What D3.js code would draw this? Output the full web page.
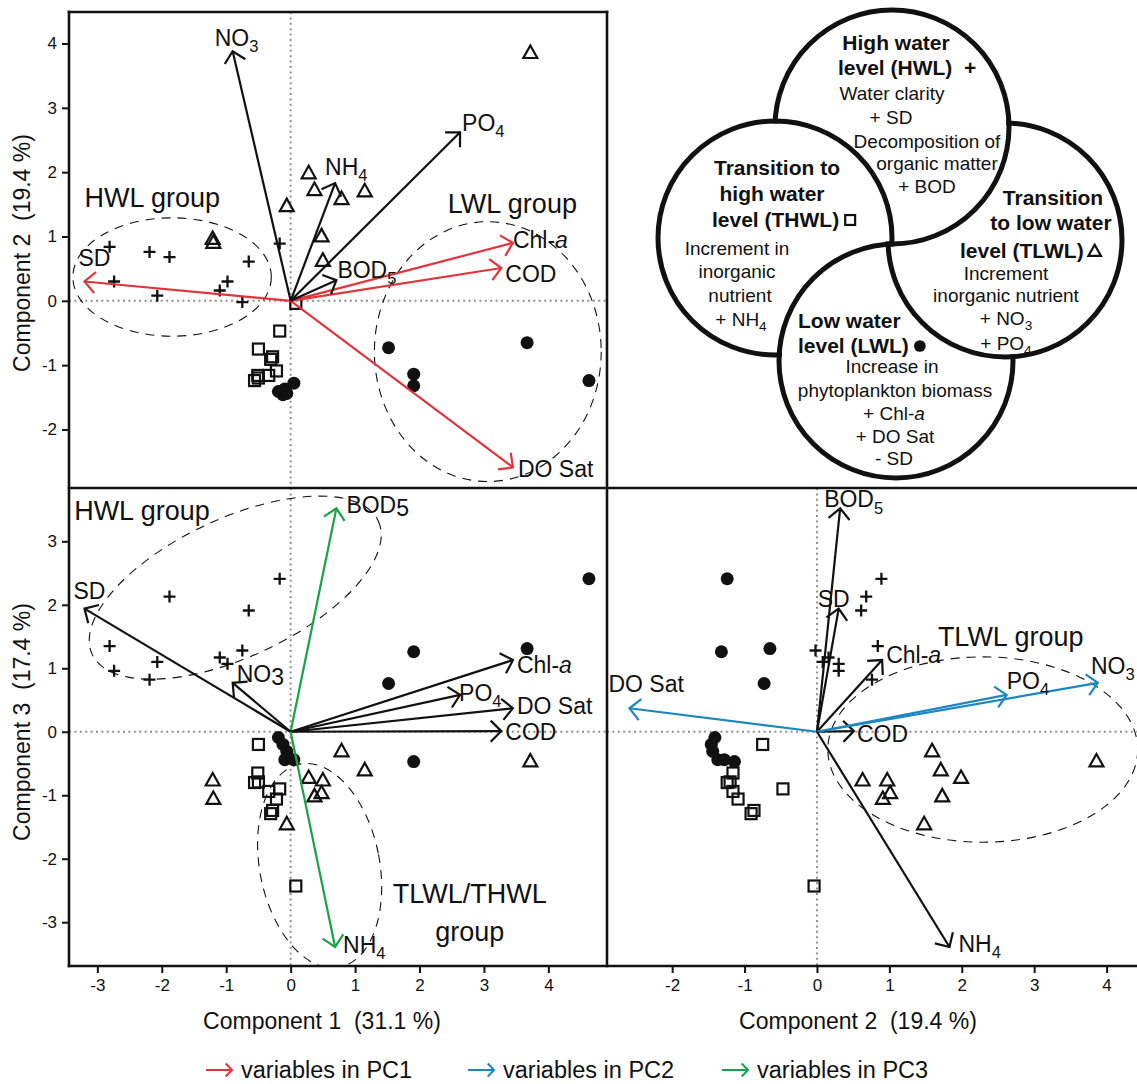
<!DOCTYPE html>
<html>
<head>
<meta charset="utf-8">
<title>PCA biplots by water level phase</title>
<script src="https://d3js.org/d3.v7.min.js"></script>
<style>
  body { margin: 0; background: #fff; }
  svg text { font-family: "Liberation Sans", Arial, Helvetica, sans-serif; fill: #111; white-space: pre; }
</style>
</head>
<body>
<svg id="chart" width="1137" height="1084"></svg>
<script>
// sample scores on PC1, PC2, PC3 - one set of arrays per water level phase
var hwlPC1 = [-2.81, -2.19, -1.88, -0.65, -2.74, -2.07, -1.10, -0.98, -0.75, -0.17];
var hwlPC2 = [ 0.84,  0.76,  0.68,  0.61,  0.30,  0.08,  0.16,  0.30, -0.02,  0.89];
var hwlPC3 = [ 1.35,  0.82,  2.13,  1.91,  0.96,  1.10,  1.17,  1.07,  1.28,  2.41];

var thwlPC1 = [-0.50,  0.08, -0.17, -0.51, -0.50, -0.56, -0.34, -0.22, -0.28, -0.31];
var thwlPC2 = [-0.75, -0.04, -0.47, -1.16, -1.20, -1.24, -1.16, -1.09, -0.87, -0.91];
var thwlPC3 = [-0.20, -2.43, -0.90, -0.65, -0.79, -0.80, -0.94, -1.06, -1.24, -1.29];

var tlwlPC1 = [-1.21, -1.20, -0.06,  0.28,  0.37,  0.79,  1.15,  0.48,  0.50,  3.72];
var tlwlPC2 = [ 0.97,  0.91,  1.48,  1.99,  1.73,  1.59,  1.71,  1.01,  0.63,  3.86];
var tlwlPC3 = [-0.76, -1.05, -1.45, -0.72, -1.01, -0.30, -0.60, -0.96, -0.76, -0.46];

var lwlPC1 = [ 1.52,  1.91,  1.91,  3.67,  4.63, -0.19, -0.12, -0.06, -0.09,  0.05];
var lwlPC2 = [-0.73, -1.14, -1.32, -0.65, -1.24, -1.41, -1.46, -1.44, -1.37, -1.28];
var lwlPC3 = [ 0.76, -0.47,  1.26,  1.31,  2.41, -0.09, -0.20, -0.31, -0.44, -0.44];

// variable loadings (arrows)
var varNames = ["SD", "Chl-a", "COD", "DO Sat", "BOD5", "NO3", "PO4", "NH4"];
var loadPC1  = [-3.20, 3.45, 3.27,  3.45, 0.71, -0.90, 2.63,  0.69];
var loadPC2  = [ 0.30, 0.90, 0.51, -2.59, 0.32,  3.88, 2.62,  1.83];
var loadPC3  = [ 1.94, 1.13, 0.01,  0.37, 3.52,  0.77, 0.58, -3.39];

var pc1Vars = ["SD", "Chl-a", "COD", "DO Sat"];
var pc2Vars = ["DO Sat", "PO4", "NO3"];
var pc3Vars = ["BOD5", "NH4"];

var ticksPC1  = [-3, -2, -1, 0, 1, 2, 3, 4];
var ticksPC2x = [-2, -1, 0, 1, 2, 3, 4];
var ticksPC2y = [-2, -1, 0, 1, 2, 3, 4];
var ticksPC3  = [-3, -2, -1, 0, 1, 2, 3];

var legendLabels = ["variables in PC1", "variables in PC2", "variables in PC3"];

// group regions drawn as dashed ellipses (data units)
var groupEllipses = [
  {panel: "tl", cx: -1.84, cy: 0.37,  rx: 1.54, ry: 0.92, rot: 0},
  {panel: "tl", cx: 3.06,  cy: -0.79, rx: 1.76, ry: 2.02, rot: 0},
  {panel: "bl", cx: -0.86, cy: 2.27,  rx: 2.45, ry: 1.09, rot: -25},
  {panel: "bl", cx: 0.45,  cy: -2.11, rx: 0.93, ry: 1.63, rot: -11},
  {panel: "br", cx: 2.29,  cy: -0.28, rx: 2.14, ry: 1.46, rot: 0}
];
var groupTexts = [
  {panel: "tl", lines: ["HWL group"], x: -3.20, y: 1.46, anchor: "start"},
  {panel: "tl", lines: ["LWL group"], x: 2.44,  y: 1.37, anchor: "start"},
  {panel: "bl", lines: ["HWL group"], x: -3.36, y: 3.34, anchor: "start"},
  {panel: "bl", lines: ["TLWL/THWL", "group"], x: 2.78, y: -2.69, anchor: "middle"},
  {panel: "br", lines: ["TLWL group"], x: 1.67, y: 1.35, anchor: "start"}
];

var obs = [];
function addGroup(grp, a, b, c) {
  a.forEach(function(v, i) { obs.push({grp: grp, pc1: v, pc2: b[i], pc3: c[i]}); });
}
addGroup("THWL", thwlPC1, thwlPC2, thwlPC3);
addGroup("TLWL", tlwlPC1, tlwlPC2, tlwlPC3);
addGroup("HWL", hwlPC1, hwlPC2, hwlPC3);
addGroup("LWL", lwlPC1, lwlPC2, lwlPC3);

var loadings = varNames.map(function(n, i) {
  return {name: n, pc1: loadPC1[i], pc2: loadPC2[i], pc3: loadPC3[i]};
});

var red = "#e3343a", blue = "#1a87c2", green = "#17a34a", ink = "#111";

var svg = d3.select("#chart");
var defs = svg.append("defs");

var panels = [
  {id: "tl", x0: 69,  x1: 607,  y0: 12,  y1: 488, xd: [-3.44, 4.91], yd: [-2.91, 4.49], xk: "pc1", yk: "pc2", hi: pc1Vars, col: red},
  {id: "bl", x0: 69,  x1: 607,  y0: 488, y1: 966, xd: [-3.44, 4.91], yd: [-3.69, 3.84], xk: "pc1", yk: "pc3", hi: pc3Vars, col: green},
  {id: "br", x0: 607, x1: 1137, y0: 488, y1: 966, xd: [-2.90, 4.42], yd: [-3.69, 3.84], xk: "pc2", yk: "pc3", hi: pc2Vars, col: blue}
];

// label offsets from the arrow tip, px
var labelPos = {
  tl: {"SD": [-6, -16], "Chl-a": [0, 5], "COD": [4, 14], "DO Sat": [5, 10], "BOD5": [1, -2], "NO3": [-18, -5], "PO4": [2, -1], "NH4": [-10, -8]},
  bl: {"SD": [-11, -10], "Chl-a": [4, 13], "COD": [4, 9], "DO Sat": [4, 6], "BOD5": [10, 5], "NO3": [4, -1], "PO4": [-1, 6], "NH4": [8, 6]},
  br: {"SD": [-21, -2], "Chl-a": [4, 3], "COD": [3, 11], "DO Sat": [-21, -16], "BOD5": [-16, -1], "NO3": [-7, -9], "PO4": [0, -6], "NH4": [9, 5]}
};
var flatSub = {bl: {"BOD5": true, "NO3": true}};

function rich(sel, str, size, flat) {
  var parts = str.split(/(NO3|PO4|NH4|BOD5|Chl-a)/);
  parts.forEach(function(p) {
    if (!p) return;
    var m = /^(NO|PO|NH|BOD)(\d)$/.exec(p);
    if (m) {
      sel.append("tspan").text(m[1]);
      if (flat) sel.append("tspan").attr("dy", 3).text(m[2]);
      else sel.append("tspan").attr("dy", size * 0.27).attr("font-size", size * 0.72).text(m[2]);
    } else if (p === "Chl-a") {
      sel.append("tspan").text("Chl-");
      sel.append("tspan").attr("font-style", "italic").text("a");
    } else {
      sel.append("tspan").text(p);
    }
  });
}

function headPath(x0, y0, x1, y1, len, spread) {
  var a = Math.atan2(y0 - y1, x0 - x1);
  return "M" + (x1 + len * Math.cos(a + spread)) + "," + (y1 + len * Math.sin(a + spread)) +
         "L" + x1 + "," + y1 +
         "L" + (x1 + len * Math.cos(a - spread)) + "," + (y1 + len * Math.sin(a - spread));
}

function marker(g, grp, s) {
  s = s || 1;
  if (grp === "HWL") {
    g.append("path").attr("d", "M" + (-6 * s) + ",0H" + (6 * s) + "M0," + (-6 * s) + "V" + (6 * s))
      .attr("stroke", ink).attr("stroke-width", 2.3).attr("fill", "none");
  } else if (grp === "THWL") {
    g.append("rect").attr("x", -5.5 * s).attr("y", -5.5 * s).attr("width", 11 * s).attr("height", 11 * s)
      .attr("stroke", ink).attr("stroke-width", 2.2).attr("fill", "none");
  } else if (grp === "TLWL") {
    g.append("path").attr("d", "M0," + (-7 * s) + "L" + (7 * s) + "," + (5.5 * s) + "L" + (-7 * s) + "," + (5.5 * s) + "Z")
      .attr("stroke", ink).attr("stroke-width", 2.2).attr("fill", "none").attr("stroke-linejoin", "miter");
  } else {
    g.append("circle").attr("r", 6.5 * s).attr("fill", ink);
  }
}

panels.forEach(function(p) {
  var x = d3.scaleLinear().domain(p.xd).range([p.x0, p.x1]);
  var y = d3.scaleLinear().domain(p.yd).range([p.y1, p.y0]);
  defs.append("clipPath").attr("id", "clip-" + p.id).append("rect")
    .attr("x", p.x0).attr("y", p.y0).attr("width", p.x1 - p.x0).attr("height", p.y1 - p.y0);
  var g = svg.append("g");
  var cg = g.append("g").attr("clip-path", "url(#clip-" + p.id + ")");

  // zero lines
  cg.append("line").attr("x1", x(0)).attr("x2", x(0)).attr("y1", p.y0).attr("y2", p.y1)
    .attr("stroke", "#8f8f8f").attr("stroke-width", 2).attr("stroke-dasharray", "2,3.4");
  cg.append("line").attr("x1", p.x0).attr("x2", p.x1).attr("y1", y(0)).attr("y2", y(0))
    .attr("stroke", "#8f8f8f").attr("stroke-width", 2).attr("stroke-dasharray", "2,3.4");

  // group ellipses
  cg.selectAll("ellipse.grp").data(groupEllipses.filter(function(e) { return e.panel === p.id; }))
    .enter().append("ellipse").attr("class", "grp")
    .attr("cx", function(e) { return x(e.cx); })
    .attr("cy", function(e) { return y(e.cy); })
    .attr("rx", function(e) { return Math.abs(x(e.rx) - x(0)); })
    .attr("ry", function(e) { return Math.abs(y(e.ry) - y(0)); })
    .attr("transform", function(e) { return "rotate(" + e.rot + "," + x(e.cx) + "," + y(e.cy) + ")"; })
    .attr("fill", "none").attr("stroke", ink).attr("stroke-width", 1.1).attr("stroke-dasharray", "9,7");

  // sample points
  cg.selectAll("g.pt").data(obs).enter().append("g").attr("class", "pt")
    .attr("transform", function(d) { return "translate(" + x(d[p.xk]) + "," + y(d[p.yk]) + ")"; })
    .each(function(d) { marker(d3.select(this), d.grp); });

  // loading arrows
  var ag = g.selectAll("g.arrow").data(loadings).enter().append("g").attr("class", "arrow");
  ag.each(function(d) {
    var s = d3.select(this);
    var c = p.hi.indexOf(d.name) >= 0 ? p.col : ink;
    var tx = x(d[p.xk]), ty = y(d[p.yk]);
    s.append("line").attr("x1", x(0)).attr("y1", y(0)).attr("x2", tx).attr("y2", ty)
      .attr("stroke", c).attr("stroke-width", 2.2);
    s.append("path").attr("d", headPath(x(0), y(0), tx, ty, 15, 0.78))
      .attr("stroke", c).attr("stroke-width", 2.2).attr("fill", "none");
    var off = labelPos[p.id][d.name];
    var t = s.append("text").attr("x", tx + off[0]).attr("y", ty + off[1]).attr("font-size", 23);
    rich(t, d.name, 23, flatSub[p.id] && flatSub[p.id][d.name]);
  });

  // group labels
  groupTexts.filter(function(e) { return e.panel === p.id; }).forEach(function(e) {
    e.lines.forEach(function(l, i) {
      g.append("text").attr("x", x(e.x)).attr("y", y(e.y) + i * 38)
        .attr("text-anchor", e.anchor).attr("font-size", 27).text(l);
    });
  });

  p.x = x; p.y = y;
});

// frames
function frameLine(x1, y1, x2, y2) {
  svg.append("line").attr("x1", x1).attr("y1", y1).attr("x2", x2).attr("y2", y2)
    .attr("stroke", ink).attr("stroke-width", 2.6).attr("stroke-linecap", "square");
}
frameLine(69, 12, 607, 12); frameLine(69, 12, 69, 966); frameLine(607, 12, 607, 966);
frameLine(69, 488, 1137, 488); frameLine(69, 966, 1137, 966);

// axes
function styleAxis(g) {
  g.select(".domain").remove();
  g.selectAll(".tick line").attr("stroke", ink).attr("stroke-width", 2);
  g.selectAll(".tick text").attr("fill", ink);
  g.attr("font-size", 17).attr("font-family", null);
}
var fmt = function(d) { return String(d); };
var pTL = panels[0], pBL = panels[1], pBR = panels[2];
svg.append("g").attr("transform", "translate(69,0)")
  .call(d3.axisLeft(pTL.y).tickValues(ticksPC2y).tickSize(7).tickPadding(5).tickFormat(fmt)).call(styleAxis);
svg.append("g").attr("transform", "translate(69,0)")
  .call(d3.axisLeft(pBL.y).tickValues(ticksPC3).tickSize(7).tickPadding(5).tickFormat(fmt)).call(styleAxis);
svg.append("g").attr("transform", "translate(0,966)")
  .call(d3.axisBottom(pBL.x).tickValues(ticksPC1).tickSize(7).tickPadding(6).tickFormat(fmt)).call(styleAxis);
svg.append("g").attr("transform", "translate(0,966)")
  .call(d3.axisBottom(pBR.x).tickValues(ticksPC2x).tickSize(7).tickPadding(6).tickFormat(fmt)).call(styleAxis);

// axis titles
svg.append("text").attr("transform", "translate(30,253) rotate(-90)").attr("text-anchor", "middle")
  .attr("font-size", 23).text("Component 2  (19.4 %)");
svg.append("text").attr("transform", "translate(30,722) rotate(-90)").attr("text-anchor", "middle")
  .attr("font-size", 23).text("Component 3  (17.4 %)");
svg.append("text").attr("x", 322).attr("y", 1029).attr("text-anchor", "middle")
  .attr("font-size", 23).text("Component 1  (31.1 %)");
svg.append("text").attr("x", 858).attr("y", 1029).attr("text-anchor", "middle")
  .attr("font-size", 23).text("Component 2  (19.4 %)");

// legend
var legendCols = [red, blue, green];
var legendX = [206, 468, 722];
legendLabels.forEach(function(t, i) {
  var g = svg.append("g").attr("transform", "translate(" + legendX[i] + ",1070)");
  g.append("line").attr("x1", 0).attr("x2", 26).attr("y1", 0).attr("y2", 0)
    .attr("stroke", legendCols[i]).attr("stroke-width", 2);
  g.append("path").attr("d", headPath(0, 0, 26, 0, 9, 0.8))
    .attr("stroke", legendCols[i]).attr("stroke-width", 2).attr("fill", "none");
  g.append("text").attr("x", 35).attr("y", 8).attr("font-size", 23.5).text(t);
});

// ---- venn-like summary of the four phases ----
var vennR = 117;
var venn = [
  {id: "TLWL", cx: 1005, cy: 240, cover: "HWL"},
  {id: "HWL",  cx: 892,  cy: 127, cover: "THWL"},
  {id: "THWL", cx: 775,  cy: 238, cover: "LWL"},
  {id: "LWL",  cx: 896,  cy: 361, cover: "TLWL"}
];
var vennById = {};
venn.forEach(function(c) { vennById[c.id] = c; });
venn.forEach(function(c) {
  var cov = vennById[c.cover];
  var m = defs.append("mask").attr("id", "mask-" + c.id).attr("maskUnits", "userSpaceOnUse")
    .attr("x", 600).attr("y", 0).attr("width", 537).attr("height", 488);
  m.append("rect").attr("x", 600).attr("y", 0).attr("width", 537).attr("height", 488).attr("fill", "#fff");
  m.append("circle").attr("cx", cov.cx).attr("cy", cov.cy).attr("r", vennR - 2.6).attr("fill", "#000");
});
var vg = svg.append("g");
vg.selectAll("circle.fill").data(venn).enter().append("circle").attr("class", "fill")
  .attr("cx", function(c) { return c.cx; }).attr("cy", function(c) { return c.cy; })
  .attr("r", vennR).attr("fill", "#fff");

var vennLines = [
  {t: "High water", x: 896, y: 50, b: true},
  {t: "level (HWL)  +", x: 838, y: 75, b: true, a: "start"},
  {t: "Water clarity", x: 892, y: 100},
  {t: "+ SD", x: 891, y: 124},
  {t: "Decomposition of", x: 927, y: 148},
  {t: "organic matter", x: 937, y: 170},
  {t: "+ BOD", x: 927, y: 193},
  {t: "Transition to", x: 777, y: 175, b: true},
  {t: "high water", x: 772, y: 201, b: true},
  {t: "level (THWL)", x: 712, y: 227, b: true, a: "start", sym: "THWL"},
  {t: "Increment in", x: 737, y: 255},
  {t: "inorganic", x: 737, y: 278},
  {t: "nutrient", x: 740, y: 302},
  {t: "+ NH4", x: 741, y: 326},
  {t: "Transition", x: 1053, y: 205, b: true},
  {t: "to low water", x: 1051, y: 230, b: true},
  {t: "level (TLWL)", x: 960, y: 258, b: true, a: "start", sym: "TLWL"},
  {t: "Increment", x: 1006, y: 280},
  {t: "inorganic nutrient", x: 1006, y: 302},
  {t: "+ NO3", x: 1006, y: 325},
  {t: "+ PO4", x: 1006, y: 350},
  {t: "Low water", x: 798, y: 328, b: true, a: "start"},
  {t: "level (LWL)", x: 798, y: 353, b: true, a: "start", sym: "LWL"},
  {t: "Increase in", x: 892, y: 373},
  {t: "phytoplankton biomass", x: 895, y: 397},
  {t: "+ Chl-a", x: 894, y: 420},
  {t: "+ DO Sat", x: 895, y: 443},
  {t: "- SD", x: 894, y: 465}
];
vennLines.forEach(function(l) {
  var size = l.b ? 21 : 19;
  var t = vg.append("text").attr("x", l.x).attr("y", l.y).attr("font-size", size)
    .attr("font-weight", l.b ? "bold" : "normal").attr("text-anchor", l.a || "middle");
  rich(t, l.t, size, false);
  if (l.sym) {
    var w = t.node().getComputedTextLength();
    var sg = vg.append("g").attr("transform", "translate(" + (l.x + w + 11) + "," + (l.y - 7) + ")");
    marker(sg, l.sym, 0.9);
  }
});

vg.selectAll("circle.edge").data(venn).enter().append("circle").attr("class", "edge")
  .attr("cx", function(c) { return c.cx; }).attr("cy", function(c) { return c.cy; })
  .attr("r", vennR).attr("fill", "none").attr("stroke", ink).attr("stroke-width", 5)
  .attr("mask", function(c) { return "url(#mask-" + c.id + ")"; });
</script>
</body>
</html>
